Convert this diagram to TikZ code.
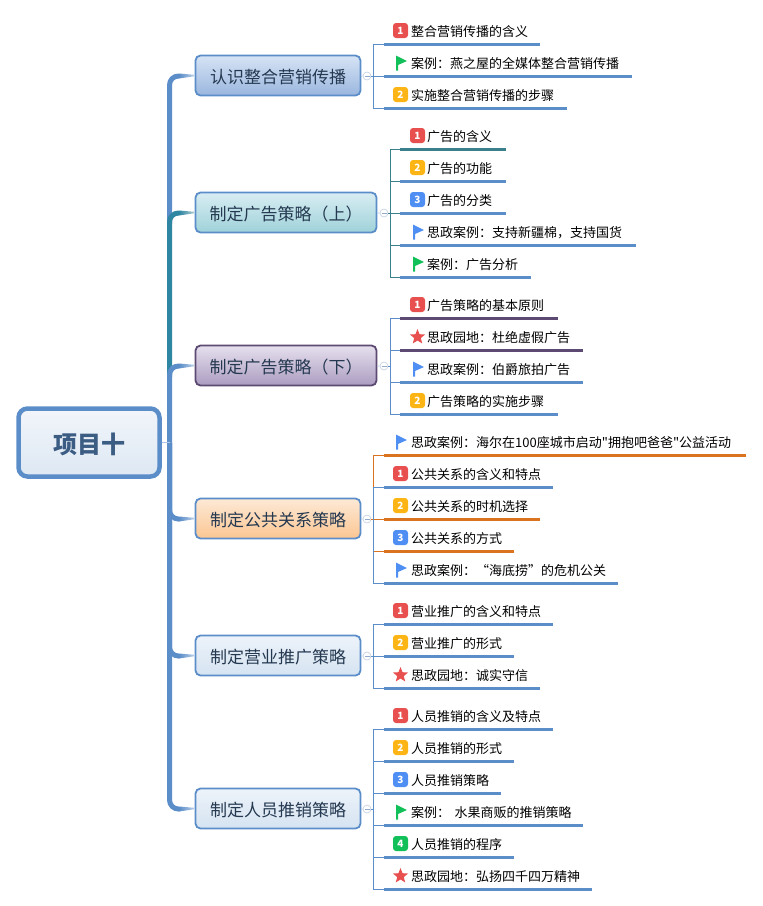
\documentclass[tikz,border=0pt]{standalone}
\usepackage{fontspec}
\setmainfont{Noto Sans CJK SC}
\newfontfamily\plainquote{Noto Sans CJK SC}
\usepackage{xcolor}
\usetikzlibrary{shapes.geometric,positioning,calc}

\definecolor{lblue}{HTML}{5B8DC9}
\definecolor{lteal}{HTML}{3A7F8C}
\definecolor{ltrunk}{HTML}{2F86A3}
\definecolor{lpurple}{HTML}{5C4A72}
\definecolor{lorange}{HTML}{D9731F}
\definecolor{ired}{HTML}{E8504F}
\definecolor{iyellow}{HTML}{FDB515}
\definecolor{iblue}{HTML}{4F8EF2}
\definecolor{igreen}{HTML}{12C05A}
\definecolor{rootA}{HTML}{F2F5FA}
\definecolor{rootB}{HTML}{DDE8F3}
\definecolor{blueA}{HTML}{D6E4F5}
\definecolor{blueB}{HTML}{9AB6DE}
\definecolor{tealA}{HTML}{D8EDF3}
\definecolor{tealB}{HTML}{9FD2D9}
\definecolor{purpA}{HTML}{E6E0EE}
\definecolor{purpB}{HTML}{AB9CC0}
\definecolor{oranA}{HTML}{FDE9D6}
\definecolor{oranB}{HTML}{FBC692}
\definecolor{paleA}{HTML}{EDF3FA}
\definecolor{paleB}{HTML}{D5E3F1}

\begin{document}
\begin{tikzpicture}[
    x=1pt, y=-1pt,
    rootbox/.style={draw=lblue, line width=4.5pt, rounded corners=9pt, minimum width=141pt, minimum height=68pt, top color=rootA, bottom color=rootB, text=black!35!lblue, text height=21pt, text depth=0pt, font=\fontsize{24}{28}\selectfont\bfseries},
    topic/.style={draw=lblue, line width=1.8pt, rounded corners=5pt, minimum height=40pt, inner sep=0pt, text=black!60!lblue, text height=15pt, text depth=0pt, font=\fontsize{17}{20}\selectfont},
    leaf/.style={anchor=south west, inner xsep=0pt, inner ysep=5pt, text height=11pt, text depth=2pt, align=left, font=\fontsize{13}{15}\selectfont, execute at begin node={\hspace*{27pt}}},
    badge/.style={rounded corners=3pt, minimum size=15pt, inner sep=0pt, text=white, font=\fontsize{10}{10}\selectfont\bfseries},
    starmark/.style={star, star points=5, star point ratio=2.3, fill=ired, minimum size=16pt, inner sep=0pt},
    flagmark/.style={minimum size=15pt, inner sep=0pt, path picture={
        \fill[#1] ([shift={(3pt,0pt)}]path picture bounding box.north west) -- ++(11pt,-5.5pt) -- ++(-9pt,-4pt) -- ++(0pt,-5.5pt) -- ++(-2pt,0pt) -- cycle;
    }},
    fold/.style={circle, draw=black!18!lblue!35, fill=white, minimum size=8pt, inner sep=0pt, line width=0.6pt, path picture={
        \draw[black!18!lblue!60, line width=0.6pt] ([xshift=1.5pt]path picture bounding box.west) -- ([xshift=-1.5pt]path picture bounding box.east);
    }},
    trunk/.style={line width=5pt, rounded corners=9pt},
    hair/.style={line width=0.8pt, lblue!50},
    twig/.style={line width=1pt},
    uline/.style={line width=3pt},
]
\useasboundingbox (0,0) rectangle (763,906);

% root and topics
\node[rootbox] (root) at (89,442.5) {项目十};
\node[topic, minimum width=165pt, top color=blueA, bottom color=blueB] (t1) at (278,75.5) {认识整合营销传播};
\node[topic, minimum width=181pt, top color=tealA, bottom color=tealB] (t2) at (286,212.5) {制定广告策略（上）};
\node[topic, draw=lpurple, minimum width=181pt, top color=purpA, bottom color=purpB] (t3) at (286,365.5) {制定广告策略（下）};
\node[topic, minimum width=165pt, top color=oranA, bottom color=oranB] (t4) at (278,518.5) {制定公共关系策略};
\node[topic, minimum width=165pt, top color=paleA, bottom color=paleB] (t5) at (278,655.5) {制定营业推广策略};
\node[topic, minimum width=165pt, top color=paleA, bottom color=paleB] (t6) at (278,808.5) {制定人员推销策略};

% trunk
\coordinate (j0) at (169.5,442.5);
\coordinate (j2) at (169.5,224);
\coordinate (j3) at (169.5,377);
\coordinate (k1) at (179,76);
\coordinate (k2) at (179,213);
\coordinate (k3) at (179,366);
\coordinate (k4) at (179,519);
\coordinate (k5) at (179,656);
\coordinate (k6) at (179,809);
\draw[trunk, lblue] (j2) |- (k1);
\draw[trunk, ltrunk] (j3) |- (k2);
\draw[trunk, lblue] (j0) |- (k3);
\draw[trunk, lblue] (j0) |- (k4);
\draw[trunk, lblue] (j0) |- (k5);
\draw[trunk, lblue] (j0) |- (k6);
\draw[hair] (root) -- (j0);
\shade[left color=lblue, right color=lblue!40] ([yshift=2.5pt]k1) -- ([yshift=-2.5pt]k1) -- ([yshift=-0.7pt]t1.west) -- ([yshift=0.7pt]t1.west) -- cycle;
\shade[left color=ltrunk, right color=lteal!40] ([yshift=2.5pt]k2) -- ([yshift=-2.5pt]k2) -- ([yshift=-0.7pt]t2.west) -- ([yshift=0.7pt]t2.west) -- cycle;
\shade[left color=lblue, right color=lblue!40] ([yshift=2.5pt]k3) -- ([yshift=-2.5pt]k3) -- ([yshift=-0.7pt]t3.west) -- ([yshift=0.7pt]t3.west) -- cycle;
\shade[left color=lblue, right color=lblue!40] ([yshift=2.5pt]k4) -- ([yshift=-2.5pt]k4) -- ([yshift=-0.7pt]t4.west) -- ([yshift=0.7pt]t4.west) -- cycle;
\shade[left color=lblue, right color=lblue!40] ([yshift=2.5pt]k5) -- ([yshift=-2.5pt]k5) -- ([yshift=-0.7pt]t5.west) -- ([yshift=0.7pt]t5.west) -- cycle;
\shade[left color=lblue, right color=lblue!40] ([yshift=2.5pt]k6) -- ([yshift=-2.5pt]k6) -- ([yshift=-0.7pt]t6.west) -- ([yshift=0.7pt]t6.west) -- cycle;

% group 1
\coordinate (b1) at (373,76);
\node[leaf, text width=156pt] (a1) at (384,44) {整合营销传播的含义};
\node[leaf, text width=248pt] (a2) at (384,76) {案例：燕之屋的全媒体整合营销传播};
\node[leaf, text width=183pt] (a3) at (384,108) {实施整合营销传播的步骤};
\node[badge, fill=ired] (a1i) at (400.5,30.5) {1};
\node[flagmark=igreen] (a2i) at (400.5,63) {};
\node[badge, fill=iyellow] (a3i) at (400.5,94.5) {2};

% group 2
\coordinate (b2) at (390,213);
\node[leaf, text width=106pt] (c1) at (400,149) {广告的含义};
\node[leaf, text width=106pt] (c2) at (400,181) {广告的功能};
\node[leaf, text width=106pt] (c3) at (400,213) {广告的分类};
\node[leaf, text width=236pt] (c4) at (400,245) {思政案例：支持新疆棉，支持国货};
\node[leaf, text width=131pt] (c5) at (400,277) {案例：广告分析};
\node[badge, fill=ired] (c1i) at (417.5,135.5) {1};
\node[badge, fill=iyellow] (c2i) at (417.5,167.5) {2};
\node[badge, fill=iblue] (c3i) at (417.5,199.5) {3};
\node[flagmark=iblue] (c4i) at (417.5,232) {};
\node[flagmark=igreen] (c5i) at (417.5,264) {};

% group 3
\coordinate (b3) at (390,366);
\node[leaf, text width=158pt] (d1) at (400,318) {广告策略的基本原则};
\node[leaf, text width=183pt] (d2) at (400,350) {思政园地：杜绝虚假广告};
\node[leaf, text width=183pt] (d3) at (400,382) {思政案例：伯爵旅拍广告};
\node[leaf, text width=158pt] (d4) at (400,414) {广告策略的实施步骤};
\node[badge, fill=ired] (d1i) at (417.5,304.5) {1};
\node[starmark] (d2i) at (417.5,337) {};
\node[flagmark=iblue] (d3i) at (417.5,369) {};
\node[badge, fill=iyellow] (d4i) at (417.5,400.5) {2};

% group 4
\coordinate (b4) at (373,519);
\node[leaf, text width=362pt] (e1) at (384,455) {思政案例：海尔在100座城市启动{\plainquote"}拥抱吧爸爸{\plainquote"}公益活动};
\node[leaf, text width=169pt] (e2) at (384,487) {公共关系的含义和特点};
\node[leaf, text width=156pt] (e3) at (384,519) {公共关系的时机选择};
\node[leaf, text width=130pt] (e4) at (384,551) {公共关系的方式};
\node[leaf, text width=234pt] (e5) at (384,583) {思政案例：“海底捞”的危机公关};
\node[flagmark=iblue] (e1i) at (400.5,442) {};
\node[badge, fill=ired] (e2i) at (400.5,473.5) {1};
\node[badge, fill=iyellow] (e3i) at (400.5,505.5) {2};
\node[badge, fill=iblue] (e4i) at (400.5,537.5) {3};
\node[flagmark=iblue] (e5i) at (400.5,570) {};

% group 5
\coordinate (b5) at (373,656);
\node[leaf, text width=169pt] (g1) at (384,624) {营业推广的含义和特点};
\node[leaf, text width=130pt] (g2) at (384,656) {营业推广的形式};
\node[leaf, text width=156pt] (g3) at (384,688) {思政园地：诚实守信};
\node[badge, fill=ired] (g1i) at (400.5,610.5) {1};
\node[badge, fill=iyellow] (g2i) at (400.5,642.5) {2};
\node[starmark] (g3i) at (400.5,675) {};

% group 6
\coordinate (b6) at (373,809);
\node[leaf, text width=169pt] (h1) at (384,729) {人员推销的含义及特点};
\node[leaf, text width=130pt] (h2) at (384,761) {人员推销的形式};
\node[leaf, text width=117pt] (h3) at (384,793) {人员推销策略};
\node[leaf, text width=199pt] (h4) at (384,825) {案例： 水果商贩的推销策略};
\node[leaf, text width=130pt] (h5) at (384,857) {人员推销的程序};
\node[leaf, text width=208pt] (h6) at (384,889) {思政园地：弘扬四千四万精神};
\node[badge, fill=ired] (h1i) at (400.5,715.5) {1};
\node[badge, fill=iyellow] (h2i) at (400.5,747.5) {2};
\node[badge, fill=iblue] (h3i) at (400.5,779.5) {3};
\node[flagmark=igreen] (h4i) at (400.5,812) {};
\node[badge, fill=igreen] (h5i) at (400.5,843.5) {4};
\node[starmark] (h6i) at (400.5,876) {};

% twigs
\draw[twig, lblue] (b1) |- (a1.south west);
\draw[twig, lblue] (b1) -- (a2.south west);
\draw[twig, lblue] (b1) |- (a3.south west);
\draw[twig, lteal] (b2) |- (c1.south west);
\draw[twig, lteal] (b2) |- (c2.south west);
\draw[twig, lteal] (b2) -- (c3.south west);
\draw[twig, lteal] (b2) |- (c4.south west);
\draw[twig, lteal] (b2) |- (c5.south west);
\draw[twig, lblue] (b3) |- (d1.south west);
\draw[twig, lblue] (b3) |- (d2.south west);
\draw[twig, lblue] (b3) |- (d3.south west);
\draw[twig, lblue] (b3) |- (d4.south west);
\draw[twig, lblue] (b4) |- (e2.south west);
\draw[twig, lorange] (b4) -- (e3.south west);
\draw[twig, lorange] (b4) |- (e4.south west);
\draw[twig, lblue] (b4) |- (e5.south west);
\draw[twig, lorange] (e2.south west -| b4) |- (e1.south west);
\draw[twig, lblue] (b5) |- (g1.south west);
\draw[twig, lblue] (b5) -- (g2.south west);
\draw[twig, lblue] (b5) |- (g3.south west);
\draw[twig, lblue] (b6) |- (h1.south west);
\draw[twig, lblue] (b6) |- (h2.south west);
\draw[twig, lblue] (b6) |- (h3.south west);
\draw[twig, lblue] (b6) |- (h4.south west);
\draw[twig, lblue] (b6) |- (h5.south west);
\draw[twig, lblue] (b6) |- (h6.south west);

% underlines
\draw[uline, lblue] (a1.south west) -- (a1.south east);
\draw[uline, lblue] (a2.south west) -- (a2.south east);
\draw[uline, lblue] (a3.south west) -- (a3.south east);
\draw[uline, lteal] (c1.south west) -- (c1.south east);
\draw[uline, lblue] (c2.south west) -- (c2.south east);
\draw[uline, lblue] (c3.south west) -- (c3.south east);
\draw[uline, lblue] (c4.south west) -- (c4.south east);
\draw[uline, lblue] (c5.south west) -- (c5.south east);
\draw[uline, lpurple] (d1.south west) -- (d1.south east);
\draw[uline, lpurple] (d2.south west) -- (d2.south east);
\draw[uline, lblue] (d3.south west) -- (d3.south east);
\draw[uline, lblue] (d4.south west) -- (d4.south east);
\draw[uline, lorange] (e1.south west) -- (e1.south east);
\draw[uline, lblue] (e2.south west) -- (e2.south east);
\draw[uline, lorange] (e3.south west) -- (e3.south east);
\draw[uline, lorange] (e4.south west) -- (e4.south east);
\draw[uline, lblue] (e5.south west) -- (e5.south east);
\draw[uline, lblue] (g1.south west) -- (g1.south east);
\draw[uline, lblue] (g2.south west) -- (g2.south east);
\draw[uline, lblue] (g3.south west) -- (g3.south east);
\draw[uline, lblue] (h1.south west) -- (h1.south east);
\draw[uline, lblue] (h2.south west) -- (h2.south east);
\draw[uline, lblue] (h3.south west) -- (h3.south east);
\draw[uline, lblue] (h4.south west) -- (h4.south east);
\draw[uline, lblue] (h5.south west) -- (h5.south east);
\draw[uline, lblue] (h6.south west) -- (h6.south east);

% fold marks
\node[fold] (f1) at (367,76) {};
\node[fold] (f2) at (384,213) {};
\node[fold] (f3) at (384,366) {};
\node[fold] (f4) at (367,519) {};
\node[fold] (f5) at (367,656) {};
\node[fold] (f6) at (367,809) {};
\draw[hair] (t1) -- (f1);
\draw[hair] (t2) -- (f2);
\draw[hair] (t3) -- (f3);
\draw[hair] (t4) -- (f4);
\draw[hair] (t5) -- (f5);
\draw[hair] (t6) -- (f6);
\draw[twig, lblue] (f1) -- (b1);
\draw[twig, lteal] (f2) -- (b2);
\draw[twig, lblue] (f3) -- (b3);
\draw[twig, lorange] (f4) -- (b4);
\draw[twig, lblue] (f5) -- (b5);
\draw[twig, lblue] (f6) -- (b6);

\end{tikzpicture}
\end{document}
